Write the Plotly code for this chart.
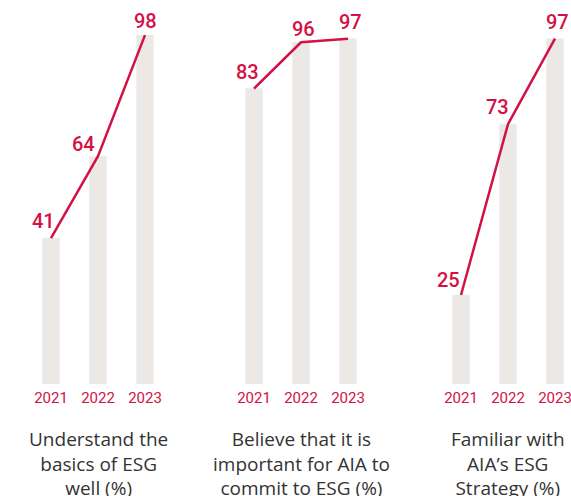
import plotly.graph_objects as go

years = ["2021", "2022", "2023"]
understand = [41, 64, 98]
important = [83, 96, 97]
familiar = [25, 73, 97]
titles = [
    "Understand the<br>basics of ESG<br>well (%)",
    "Believe that it is<br>important for AIA to<br>commit to ESG (%)",
    "Familiar with<br>AIA’s ESG<br>Strategy (%)",
]
series = [understand, important, familiar]

RED = "#D31145"
BAR = "#ECE8E5"
TXT = "#333333"
FONT = "Roboto"

# label offsets (px) per panel per point: (xshift, yshift)
label_shifts = [
    [(-8, 17), (-15, 12), (0, 14)],
    [(-7, 17), (2, 13), (2, 17)],
    [(-12, 15), (-10, 17), (2, 17)],
]

W, H = 571, 496
ybot = (H - 384) / H
ytop = (H - 28) / H
x_domains = [
    [27.5 / W, 168.5 / W],
    [230.5 / W, 371.5 / W],
    [437.5 / W, 1.0],
]
x_ranges = [[-0.5, 2.5], [-0.5, 2.5], [-0.5, (W - 437.5) / 47 - 0.5]]

fig = go.Figure()
for i, vals in enumerate(series):
    ax = "" if i == 0 else str(i + 1)
    fig.add_trace(go.Bar(x=years, y=vals, width=0.36, marker_color=BAR,
                         xaxis="x" + ax, yaxis="y" + ax, hoverinfo="skip"))
    fig.add_trace(go.Scatter(x=years, y=vals, mode="lines",
                             line=dict(color=RED, width=2.5),
                             xaxis="x" + ax, yaxis="y" + ax, cliponaxis=False))
    for j, v in enumerate(vals):
        dx, dy = label_shifts[i][j]
        fig.add_annotation(
            x=j, y=v, xref="x" + ax, yref="y" + ax, text=str(v),
            showarrow=False, xshift=dx, yshift=dy, yanchor="middle",
            font=dict(family=FONT, size=20, color=RED, weight=500))
    fig.add_annotation(
        x=1, y=(H - 424) / H, xref="x" + ax, yref="paper",
        text=titles[i], showarrow=False, yanchor="top", align="center",
        font=dict(family="Open Sans", size=19, color=TXT))
    fig.update_layout(**{
        "xaxis" + ax: dict(domain=x_domains[i], range=x_ranges[i], type="category",
                           anchor="y" + ax, showgrid=False, zeroline=False,
                           showline=False, ticks="", ticklabelstandoff=3,
                           tickfont=dict(family=FONT, size=15, color=RED)),
        "yaxis" + ax: dict(domain=[ybot, ytop], range=[0, 100], anchor="x" + ax,
                           visible=False, showgrid=False),
    })

fig.update_layout(
    width=W, height=H, margin=dict(l=0, r=0, t=0, b=0),
    paper_bgcolor="white", plot_bgcolor="white", showlegend=False,
    font=dict(family=FONT),
)
fig.write_html("out.html", config={"displayModeBar": False},
               post_script="document.body.style.margin='0';")
